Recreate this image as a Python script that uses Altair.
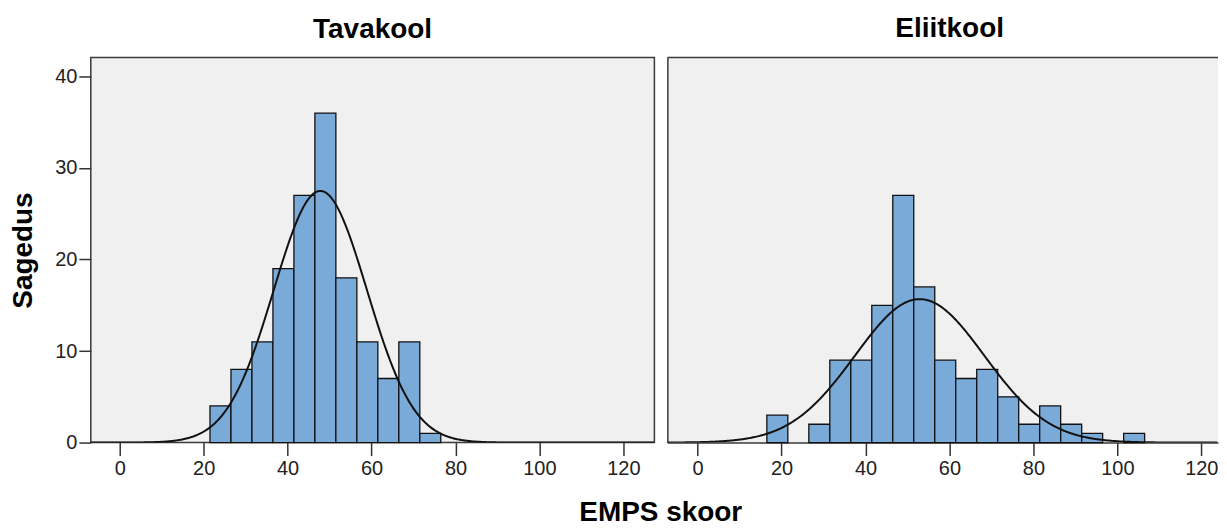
import altair as alt
import pandas as pd

# ---- data ----
bin_width = 5

tav_lo = [21.5, 26.5, 31.5, 36.5, 41.5, 46.5, 51.5, 56.5, 61.5, 66.5, 71.5]
tav_hi = [26.5, 31.5, 36.5, 41.5, 46.5, 51.5, 56.5, 61.5, 66.5, 71.5, 76.5]
tav_counts = [4, 8, 11, 19, 27, 36, 18, 11, 7, 11, 1]
tav_mean, tav_sd, tav_n = 47.8, 11.1, 153

eli_lo = [16.5, 21.5, 26.5, 31.5, 36.5, 41.5, 46.5, 51.5, 56.5, 61.5, 66.5, 71.5,
          76.5, 81.5, 86.5, 91.5, 96.5, 101.5]
eli_hi = [21.5, 26.5, 31.5, 36.5, 41.5, 46.5, 51.5, 56.5, 61.5, 66.5, 71.5, 76.5,
          81.5, 86.5, 91.5, 96.5, 101.5, 106.5]
eli_counts = [3, 0, 2, 9, 9, 15, 27, 17, 9, 7, 8, 5, 2, 4, 2, 1, 0, 1]
eli_mean, eli_sd, eli_n = 52.9, 15.4, 121

x_ticks = [0, 20, 40, 60, 80, 100, 120]
y_ticks = [0, 10, 20, 30, 40]

FONT = "Liberation Sans"
BAR_FILL = "#7AAAD8"
INK = "#111111"
FRAME = "#3a3a3a"
PANEL_BG = "#F0F0F0"
PLOT_H = 386


def panel(title, lo, hi, counts, mean, sd, n, xdom, width, is_left, title_dx=0):
    df = pd.DataFrame({"lo": lo, "hi": hi, "count": counts})
    xscale = alt.Scale(domain=xdom, nice=False, zero=False)
    yscale = alt.Scale(domain=[0, 42.07], nice=False)
    xaxis = alt.Axis(values=x_ticks, title=None, grid=False,
                     domain=not is_left, domainColor=FRAME, domainWidth=1.5,
                     tickSize=13, tickWidth=1.5, tickColor="#333",
                     labelFontSize=20, labelFont=FONT, labelColor="#222",
                     labelPadding=3)
    if is_left:
        yaxis = alt.Axis(values=y_ticks, title="Sagedus", grid=False, domain=False,
                         tickSize=12, tickWidth=1.5, tickColor="#333",
                         labelFontSize=20, labelFont=FONT, labelColor="#222",
                         labelPadding=2, titleFontSize=28, titleFont=FONT,
                         titleFontWeight="bold", titleColor="#000", titlePadding=17)
    else:
        yaxis = alt.Axis(values=y_ticks, title=None, grid=False, labels=False,
                         ticks=False, domain=True, domainColor=FRAME, domainWidth=1.5)
    bars = alt.Chart(df).transform_filter("datum.count > 0").mark_rect(
        fill=BAR_FILL, stroke=INK, strokeWidth=1.3
    ).encode(
        x=alt.X("lo:Q", scale=xscale, axis=xaxis),
        x2="hi:Q",
        y=alt.Y("count:Q", scale=yscale, axis=yaxis),
        y2=alt.datum(0),
    )
    curve = alt.Chart(alt.sequence(xdom[0], xdom[1], 0.25, as_="x")).transform_calculate(
        y=f"{n * bin_width}/({sd}*sqrt(2*PI))*exp(-0.5*pow((datum.x-{mean})/{sd},2))"
    ).mark_line(color=INK, strokeWidth=2, clip=True).encode(
        x=alt.X("x:Q", scale=xscale, axis=xaxis),
        y=alt.Y("y:Q", scale=yscale, axis=yaxis),
    )
    layers = [bars, curve]
    if is_left:
        view = alt.ViewBackground(fill=PANEL_BG, stroke=FRAME, strokeWidth=1.5)
    else:
        # open on the right side, as the reference is cut off there
        view = alt.ViewBackground(fill=PANEL_BG, strokeWidth=0)
        top_line = alt.Chart(pd.DataFrame({"k": [0]})).mark_rule(
            color=FRAME, strokeWidth=1.5
        ).encode(x=alt.value(0), x2=alt.value(width), y=alt.value(0))
        layers.append(top_line)
    return alt.layer(*layers).properties(
        width=width, height=PLOT_H, view=view,
        title=alt.TitleParams(title, fontSize=28, font=FONT, fontWeight="bold",
                              color="#000", anchor="middle", offset=14, dx=title_dx),
    )


left = panel("Tavakool", tav_lo, tav_hi, tav_counts, tav_mean, tav_sd, tav_n,
             [-6.9, 127.4], 565, True)
right = panel("Eliitkool", eli_lo, eli_hi, eli_counts, eli_mean, eli_sd, eli_n,
              [-7.2, 123.98], 552, False, title_dx=7)

chart = alt.hconcat(left, right, spacing=11).properties(
    title=alt.TitleParams("EMPS skoor", orient="bottom", anchor="middle",
                          fontSize=28, font=FONT, fontWeight="bold", color="#000",
                          offset=20, dx=47),
    padding={"left": 1, "top": 6, "right": 0, "bottom": 0},
    background="white",
)

chart.save("out.html", embed_options={"renderer": "svg", "actions": False})
